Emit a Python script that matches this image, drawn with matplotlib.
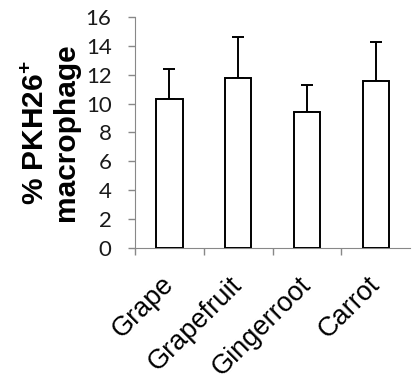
import numpy as np
import matplotlib
matplotlib.use("Agg")
import matplotlib.pyplot as plt
from matplotlib.transforms import ScaledTranslation

categories = ["Grape", "Grapefruit", "Gingerroot", "Carrot"]
means = [10.3, 11.8, 9.4, 11.6]
errors = [2.1, 2.8, 1.9, 2.7]
yticks = [0, 2, 4, 6, 8, 10, 12, 14, 16]

plt.rcParams['mathtext.fontset'] = 'custom'
plt.rcParams['mathtext.rm'] = 'Liberation Sans:bold'

fig = plt.figure(figsize=(4.17, 3.86), dpi=100)
ax = fig.add_axes([0.324, 0.3575, 0.659, 0.5985])

x = np.arange(len(categories))
ax.bar(x, means, width=0.38, color='white', edgecolor='black', linewidth=1.4, zorder=3)
ax.errorbar(x, means, yerr=[np.zeros(len(errors)), errors], fmt='none',
            ecolor='black', elinewidth=1.4, capsize=4, capthick=1.4, zorder=2)

ax.set_xlim(-0.5, 3.5)
ax.set_ylim(0, 16)
ax.set_yticks(yticks)
ax.set_yticklabels([str(v) for v in yticks], fontfamily='Lato', fontsize=16,
                   color='#1a1a1a')

ax.set_xticks(x)
ax.set_xticklabels(categories, rotation=45, ha='right', rotation_mode='anchor',
                   fontfamily='Liberation Sans', fontsize=19.5)
ax.tick_params(axis='x', length=0, pad=17)
# nudge the slanted labels left a bit
shift = ScaledTranslation(-0.09, 0, fig.dpi_scale_trans)
for lab in ax.get_xticklabels():
    lab.set_transform(lab.get_transform() + shift)
ax.set_xticks([-0.5, 0.5, 1.5, 2.5], minor=True)
ax.tick_params(axis='x', which='minor', length=5, color='#888888', width=1)
ax.tick_params(axis='y', length=5, color='#888888', width=1, pad=12)

for s in ['top', 'right']:
    ax.spines[s].set_visible(False)
ax.spines['left'].set_color('#888888')
ax.spines['bottom'].set_color('#888888')

ax.set_ylabel('% PKH26$^{+}$\nmacrophage', fontfamily='Liberation Sans',
              fontweight='bold', fontsize=21.5, linespacing=1.1)
ax.yaxis.set_label_coords(-0.20, 0.5)

fig.savefig('out.png', dpi=100)
